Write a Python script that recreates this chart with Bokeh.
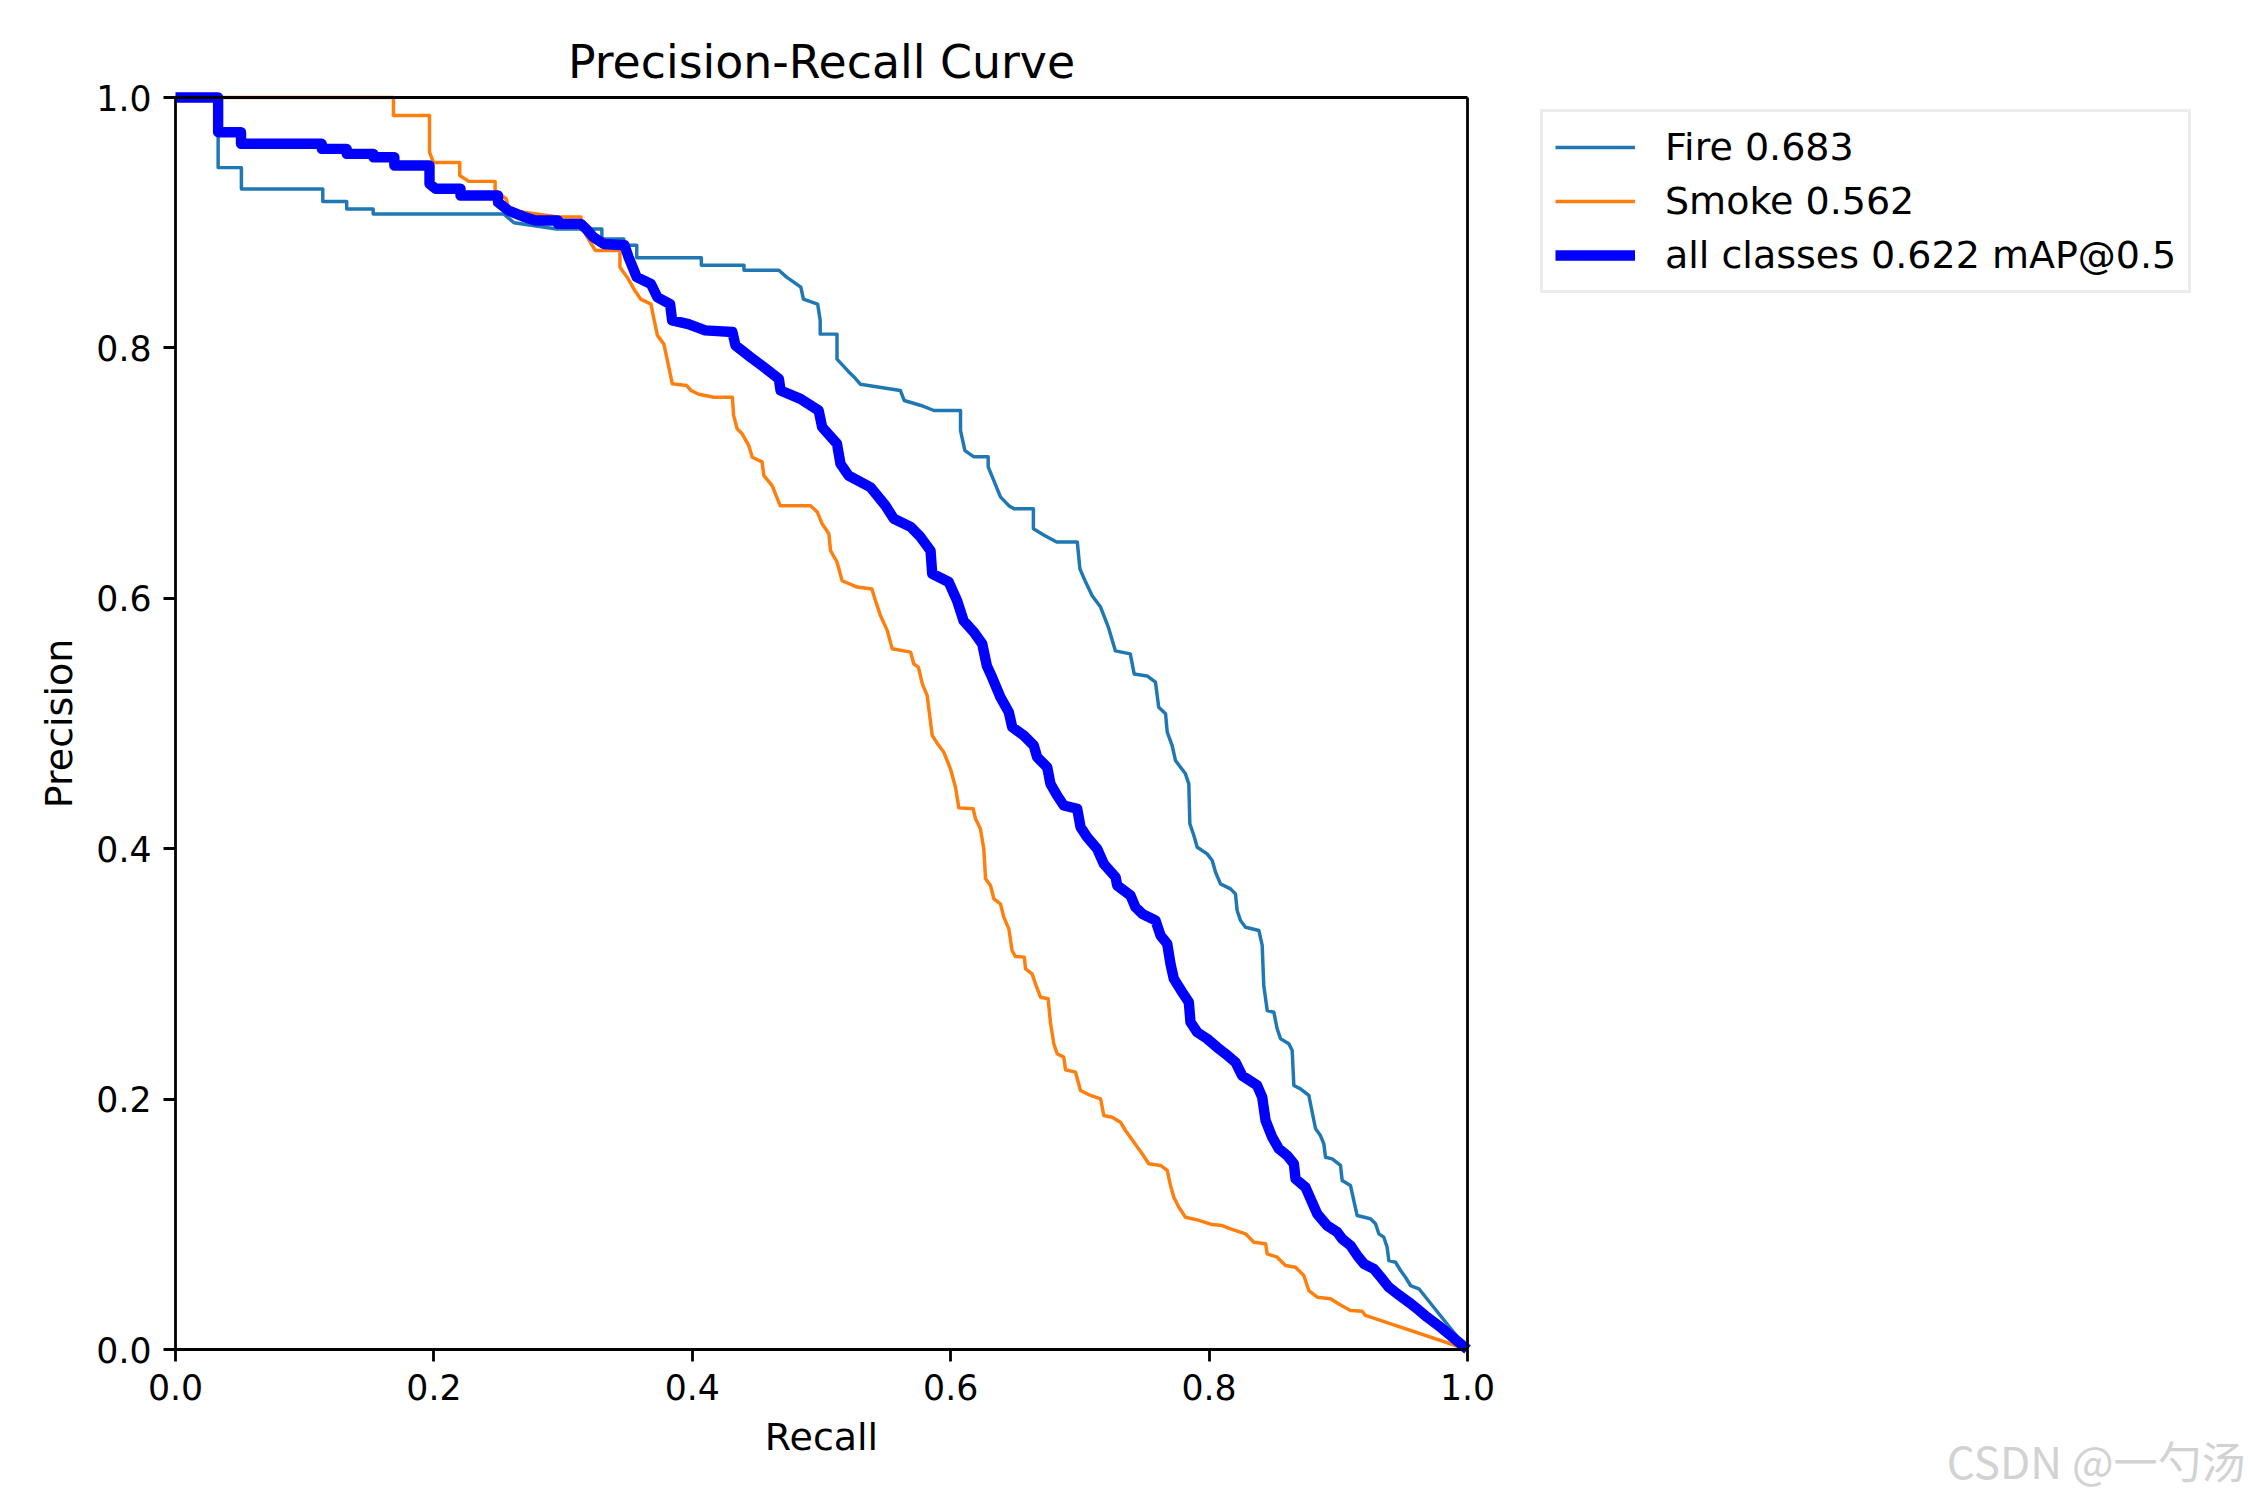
from bokeh.plotting import figure
from bokeh.models import (Range1d, FixedTicker, PrintfTickFormatter, Legend, LegendItem, Label,
                          LinearAxis)
from bokeh.embed import file_html
from bokeh.resources import INLINE

# ---------------- data ----------------
fire_recall = [0.000, 0.033, 0.033, 0.051, 0.051, 0.114, 0.114, 0.1325, 0.1325, 0.153, 0.153, 0.254,
               0.262, 0.295, 0.330, 0.330, 0.347, 0.347, 0.357, 0.357, 0.407, 0.407, 0.440, 0.440,
               0.467, 0.473, 0.484, 0.486, 0.497, 0.499, 0.499, 0.512, 0.512, 0.521, 0.525, 0.530,
               0.561, 0.564, 0.577, 0.587, 0.6076, 0.6076, 0.611, 0.618, 0.629, 0.629, 0.633, 0.6385,
               0.645, 0.649, 0.664, 0.664, 0.673, 0.682, 0.698, 0.700, 0.704, 0.7095, 0.716, 0.722,
               0.7275, 0.739, 0.742, 0.752, 0.7585, 0.761, 0.7663, 0.7676, 0.7714, 0.774, 0.7779,
               0.7817, 0.7843, 0.7851, 0.7882, 0.7908, 0.7985, 0.8024, 0.805, 0.8088, 0.8166, 0.8204,
               0.8217, 0.8243, 0.8282, 0.8385, 0.8411, 0.8423, 0.845, 0.8501, 0.8527, 0.8553, 0.8617,
               0.8643, 0.8656, 0.8707, 0.8772, 0.8798, 0.8824, 0.8862, 0.8888, 0.8901, 0.8953, 0.9017,
               0.903, 0.9094, 0.912, 0.9146, 0.9249, 0.9288, 0.9314, 0.9352, 0.9378, 0.9391, 0.9443,
               0.9482, 0.952, 0.9559, 0.9624, 1.000]
fire_precision = [1.000, 1.000, 0.944, 0.944, 0.927, 0.927, 0.917, 0.917, 0.911, 0.911, 0.907, 0.907,
                  0.900, 0.895, 0.895, 0.887, 0.887, 0.882, 0.882, 0.872, 0.872, 0.866, 0.866, 0.862,
                  0.862, 0.8565, 0.8485, 0.839, 0.835, 0.822, 0.811, 0.811, 0.791, 0.781, 0.777, 0.771,
                  0.766, 0.758, 0.754, 0.750, 0.750, 0.734, 0.718, 0.713, 0.713, 0.705, 0.695, 0.681,
                  0.674, 0.6715, 0.6715, 0.6555, 0.650, 0.645, 0.645, 0.6235, 0.614, 0.602, 0.593, 0.577,
                  0.558, 0.5556, 0.5396, 0.538, 0.533, 0.513, 0.5077, 0.4931, 0.4824, 0.4704, 0.4651,
                  0.4598, 0.4518, 0.4199, 0.4105, 0.4012, 0.3959, 0.3906, 0.3812, 0.3719, 0.3679, 0.3639,
                  0.3506, 0.3427, 0.3373, 0.3347, 0.3227, 0.2907, 0.2708, 0.2694, 0.2561, 0.2482, 0.2442,
                  0.2388, 0.2109, 0.2082, 0.2029, 0.1895, 0.1763, 0.1709, 0.1643, 0.1536, 0.1523, 0.147,
                  0.135, 0.131, 0.119, 0.107, 0.1044, 0.1004, 0.0924, 0.0897, 0.0817, 0.0711, 0.0697,
                  0.0631, 0.0577, 0.0511, 0.0485, 0.000]

smoke_recall = [0.000, 0.1687, 0.1687, 0.1966, 0.1966, 0.1997, 0.220, 0.220, 0.227, 0.2474, 0.2474,
                0.256, 0.258, 0.2655, 0.296, 0.3138, 0.3138, 0.3187, 0.325, 0.344, 0.344, 0.3505,
                0.3555, 0.360, 0.368, 0.370, 0.373, 0.378, 0.381, 0.3845, 0.3955, 0.399, 0.405, 0.4167,
                0.431, 0.432, 0.4347, 0.4386, 0.4437, 0.4464, 0.454, 0.4554, 0.4618, 0.468, 0.4915,
                0.4967, 0.5005, 0.5057, 0.507, 0.512, 0.516, 0.5276, 0.539, 0.5418, 0.5457, 0.551,
                0.5547, 0.569, 0.5714, 0.575, 0.578, 0.5818, 0.5857, 0.5895, 0.5947, 0.5998, 0.6037,
                0.6063, 0.6174, 0.6192, 0.623, 0.6256, 0.627, 0.6308, 0.6334, 0.6385, 0.6411, 0.645,
                0.6475, 0.650, 0.657, 0.6579, 0.663, 0.6656, 0.6695, 0.6754, 0.6772, 0.6798, 0.6824,
                0.6875, 0.6889, 0.6966, 0.7005, 0.7082, 0.716, 0.7185, 0.725, 0.7314, 0.7353, 0.7482,
                0.7533, 0.7624, 0.7676, 0.7701, 0.7727, 0.7766, 0.7817, 0.7908, 0.8024, 0.8101, 0.8166,
                0.8282, 0.8346, 0.8437, 0.845, 0.8527, 0.8591, 0.8669, 0.8733, 0.8772, 0.8837, 0.894,
                0.9004, 0.9094, 0.9185, 0.921, 1.000]
smoke_precision = [1.000, 1.000, 0.9856, 0.9856, 0.9563, 0.948, 0.948, 0.9377, 0.933, 0.933, 0.9257,
                   0.919, 0.911, 0.909, 0.9046, 0.9046, 0.899, 0.8885, 0.8778, 0.8778, 0.8645, 0.855,
                   0.8458, 0.839, 0.835, 0.8245, 0.810, 0.803, 0.7886, 0.7713, 0.770, 0.766, 0.763, 0.7606,
                   0.7606, 0.746, 0.7354, 0.7314, 0.722, 0.7127, 0.709, 0.698, 0.690, 0.674, 0.674,
                   0.669, 0.6595, 0.6515, 0.638, 0.629, 0.614, 0.609, 0.6075, 0.598, 0.586, 0.574,
                   0.5597, 0.557, 0.5477, 0.545, 0.5317, 0.5224, 0.4904, 0.4843, 0.477, 0.4638, 0.4491,
                   0.4326, 0.4319, 0.4239, 0.4159, 0.3999, 0.376, 0.3706, 0.360, 0.356, 0.3453, 0.336,
                   0.3187, 0.3139, 0.3134, 0.304, 0.300, 0.2921, 0.2814, 0.2801, 0.2614, 0.2442, 0.2362,
                   0.2335, 0.2234, 0.2215, 0.2069, 0.2029, 0.2002, 0.1869, 0.1855, 0.1815, 0.1749, 0.1563,
                   0.1483, 0.147, 0.143, 0.131, 0.1216, 0.1136, 0.1056, 0.1035, 0.0998, 0.099, 0.0964,
                   0.0924, 0.0857, 0.0844, 0.0764, 0.0737, 0.0671, 0.0657, 0.0591, 0.0471, 0.0418, 0.0405,
                   0.0364, 0.0312, 0.0306, 0.0272, 0.000]

all_recall = [0.000, 0.033, 0.033, 0.0507, 0.0507, 0.1132, 0.1132, 0.1325, 0.1325, 0.1532, 0.1532,
              0.1694, 0.1694, 0.1966, 0.1966, 0.2015, 0.2206, 0.2206, 0.2496, 0.2496, 0.2577, 0.2689,
              0.2785, 0.296, 0.296, 0.3138, 0.3187, 0.3235, 0.3315, 0.3475, 0.3507, 0.357, 0.368,
              0.373, 0.3828, 0.3844, 0.397, 0.410, 0.431, 0.4334, 0.445, 0.4554, 0.467, 0.4683, 0.4837,
              0.4978, 0.5005, 0.512, 0.5147, 0.521, 0.5379, 0.5495, 0.556, 0.569, 0.5766, 0.5844,
              0.5857, 0.5985, 0.605, 0.610, 0.618, 0.6244, 0.628, 0.632, 0.6385, 0.645, 0.6476,
              0.6566, 0.6643, 0.6669, 0.6747, 0.6772, 0.6824, 0.6875, 0.6979, 0.7005, 0.7056, 0.7134,
              0.7185, 0.7276, 0.7289, 0.7392, 0.743, 0.7482, 0.7585, 0.7624, 0.7676, 0.7701, 0.7727,
              0.7792, 0.7843, 0.7856, 0.7908, 0.7985, 0.8062, 0.8127, 0.8204, 0.8256, 0.8372, 0.8411,
              0.8437, 0.8488, 0.854, 0.8604, 0.8656, 0.8669, 0.8746, 0.8785, 0.8837, 0.8914, 0.8992,
              0.903, 0.9094, 0.9146, 0.9198, 0.9275, 0.934, 0.9391, 0.9456, 0.9546, 0.961, 0.9688,
              0.9791, 1.000]
all_precision = [1.000, 1.000, 0.9723, 0.9723, 0.963, 0.963, 0.959, 0.959, 0.955, 0.955, 0.9523,
                 0.9523, 0.9457, 0.9457, 0.931, 0.9271, 0.9271, 0.9217, 0.9217, 0.9164, 0.9097, 0.905,
                 0.9018, 0.9018, 0.8991, 0.8991, 0.894, 0.8884, 0.883, 0.882, 0.8724, 0.8565, 0.851,
                 0.8405, 0.835, 0.822, 0.819, 0.814, 0.8127, 0.802, 0.7926, 0.7846, 0.7753, 0.766, 0.7593,
                 0.750, 0.7367, 0.7234, 0.7074, 0.698, 0.6887, 0.674, 0.6635, 0.657, 0.649, 0.638,
                 0.6196, 0.613, 0.598, 0.582, 0.5729, 0.5636, 0.546, 0.537, 0.521, 0.509, 0.4971,
                 0.4904, 0.4824, 0.4731, 0.4651, 0.4518, 0.4425, 0.4345, 0.4319, 0.4172, 0.4092, 0.3999,
                 0.3879, 0.3773, 0.3706, 0.3626, 0.3533, 0.348, 0.3427, 0.3307, 0.324, 0.3081, 0.2961,
                 0.2854, 0.2774, 0.2614, 0.2534, 0.2482, 0.2414, 0.2362, 0.2295, 0.2188, 0.2109, 0.2015,
                 0.1829, 0.1696, 0.1603, 0.155, 0.1483, 0.1363, 0.1296, 0.1204, 0.1084, 0.099, 0.0937,
                 0.0884, 0.0831, 0.0751, 0.0684, 0.0644, 0.0564, 0.0498, 0.0445, 0.0378, 0.0325, 0.0258,
                 0.0178, 0.000]

series_labels = ["Fire 0.683", "Smoke 0.562", "all classes 0.622 mAP@0.5"]
tick_values = [0.0, 0.2, 0.4, 0.6, 0.8, 1.0]
title_text = "Precision-Recall Curve"
x_label = "Recall"
y_label = "Precision"
watermark = "CSDN @一勺汤"

# ---------------- layout geometry (canvas pixels) ----------------
W, H = 2250, 1500
AX_L, AX_R, AX_T, AX_B = 175, 1467, 97, 1349      # axes box
sx_per = AX_R - AX_L
sy_per = AX_B - AX_T
x_start = -AX_L / sx_per
x_end = (W - AX_L) / sx_per
y_end = 1 + AX_T / sy_per
y_start = -(H - AX_B) / sy_per

def dx(px):
    return (px - AX_L) / sx_per

def dy(py):
    return (AX_B - py) / sy_per

FONT = "DejaVu Sans"
p = figure(width=W, height=H,
           x_range=Range1d(x_start, x_end), y_range=Range1d(y_start, y_end),
           output_backend="svg", toolbar_location=None,
           min_border_left=0, min_border_right=0, min_border_top=0, min_border_bottom=0)
p.background_fill_color = "white"
p.border_fill_color = "white"
p.outline_line_color = None
p.xgrid.visible = False
p.ygrid.visible = False

xa = p.below[0]
ya = p.left[0]
xa.fixed_location = 0
ya.fixed_location = 0
for ax in (xa, ya):
    ax.bounds = (0, 1)
    ax.ticker = FixedTicker(ticks=tick_values)
    ax.formatter = PrintfTickFormatter(format="%.1f")
    ax.major_label_text_font = FONT
    ax.major_label_text_font_size = "34.7px"
    ax.major_label_text_color = "black"
    ax.axis_label_text_font = FONT
    ax.axis_label_text_font_size = "38px"
    ax.axis_label_text_font_style = "normal"
    ax.axis_label_text_color = "black"
    ax.major_tick_in = 0
    ax.major_tick_out = 12
    ax.major_tick_line_width = 2.8
    ax.major_tick_line_color = "black"
    ax.minor_tick_line_color = None
    ax.axis_line_width = 2.8
    ax.axis_line_color = "black"
    ax.major_label_standoff = 12
    ax.axis_label_standoff = 12
xa.axis_label = x_label
ya.axis_label = y_label

# top and right spines of the axes box
for side in ("above", "right"):
    sp = LinearAxis(fixed_location=1, bounds=(0, 1), ticker=FixedTicker(ticks=[]),
                    major_tick_out=0, major_tick_in=0, minor_tick_line_color=None,
                    axis_line_width=2.8, axis_line_color="black", major_label_standoff=0)
    p.add_layout(sp, side)

r_fire = p.line(fire_recall, fire_precision, line_color="#1f77b4", line_width=3.47,
                line_join="round")
r_smoke = p.line(smoke_recall, smoke_precision, line_color="#ff7f0e", line_width=3.47,
                 line_join="round")
r_all = p.line(all_recall, all_precision, line_color="blue", line_width=10.4,
               line_join="round")

# title
p.add_layout(Label(x=0.5, y=dy(61), text=title_text, text_align="center",
                   text_baseline="alphabetic", text_font=FONT, text_font_size="45.8px",
                   text_color="black"))

# legend (outside the axes box, upper right)
legend = Legend(items=[LegendItem(label=series_labels[0], renderers=[r_fire]),
                       LegendItem(label=series_labels[1], renderers=[r_smoke]),
                       LegendItem(label=series_labels[2], renderers=[r_all])],
                location=(1540, H - 293))
legend.label_text_font = FONT
legend.label_text_font_size = "38px"
legend.label_text_color = "black"
legend.glyph_width = 80
legend.glyph_height = 46
legend.label_height = 46
legend.label_standoff = 30
legend.spacing = 8
legend.padding = 12
legend.margin = 0
legend.border_line_color = "#d9d9d9"
legend.border_line_width = 3.5
legend.background_fill_color = "white"
legend.background_fill_alpha = 1.0
p.add_layout(legend, "center")

# watermark
p.add_layout(Label(x=dx(2245), y=dy(1459), text=watermark, text_align="right",
                   text_baseline="alphabetic", text_font="Noto Sans CJK SC",
                   text_font_size="44px", text_color="#d2d2d2"))

open("out.html", "w").write(file_html(p, INLINE))
